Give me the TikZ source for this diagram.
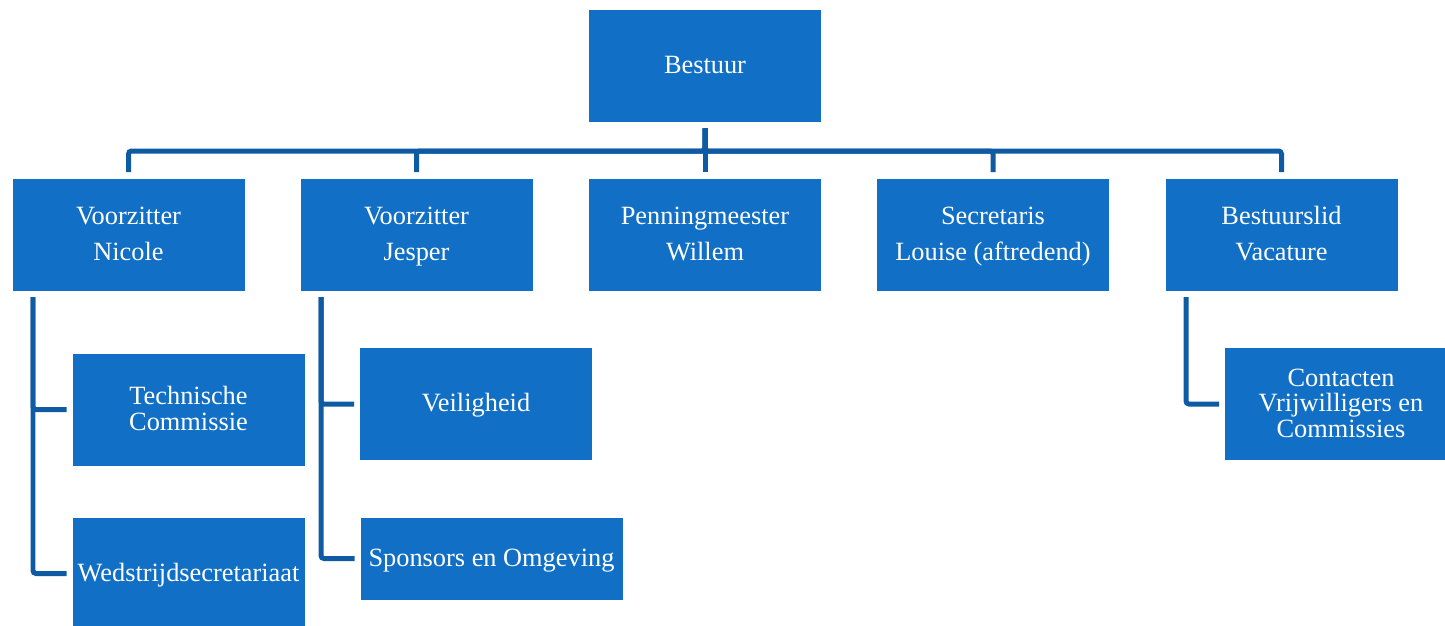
\documentclass[tikz,border=0pt]{standalone}
\usepackage{fontspec}
\setmainfont{Liberation Serif}
\definecolor{boxblue}{RGB}{17,112,197}
\definecolor{lineblue}{RGB}{14,90,163}
\newcommand{\tstrut}{\rule{0pt}{13pt}}
\newcommand{\bstrut}{\rule[-4pt]{0pt}{4pt}}
\tikzset{link/.style={draw=lineblue, line width=0.1cm, rounded corners=0.06cm, shorten <=0.12cm, shorten >=0.12cm}}
\tikzset{stub/.style={link, shorten <=0.1cm, shorten >=0.1cm}}
\tikzset{unit/.style={fill=boxblue, draw=white, line width=0.4pt, text=white, align=center, inner sep=0pt, minimum width=4.66cm, minimum height=2.26cm, font=\fontsize{15}{14.7}\selectfont}}

\begin{document}
\begin{tikzpicture}[x=0.02cm, y=-0.02cm]
	\useasboundingbox (0,0) rectangle (1445,626);

	% Top
	\node[unit] (bestuur) at (705,65.5) {\tstrut Bestuur\bstrut};
	\coordinate (bus) at (0,151);

	% Board row
	\node[unit] (nicole) at (128.5,235) {\tstrut Voorzitter\\[5.7pt]Nicole\bstrut};
	\node[unit] (jesper) at (416.5,235) {\tstrut Voorzitter\\[5.7pt]Jesper\bstrut};
	\node[unit] (willem) at (705,235) {\tstrut Penningmeester\\[5.7pt]Willem\bstrut};
	\node[unit] (louise) at (993,235) {\tstrut Secretaris\\[5.7pt]Louise (aftredend)\bstrut};
	\node[unit] (vacature) at (1281.5,235) {\tstrut Bestuurslid\\[5.7pt]Vacature\bstrut};

	% Sub units
	\node[unit] (techcom) at (188.5,409.5) {\tstrut Technische\\Commissie\bstrut};
	\node[unit] (wedstrijd) at (188.5,573.5) {\tstrut Wedstrijdsecretariaat\bstrut};
	\node[unit] (veiligheid) at (476,404) {\tstrut Veiligheid\bstrut};
	\node[unit, minimum width=5.26cm, minimum height=1.66cm] (sponsors) at (491.5,558.5) {\tstrut Sponsors en Omgeving\bstrut};
	\node[unit] (contacten) at (1341,404) {\tstrut Contacten\\Vrijwilligers en\\Commissies\bstrut};

	% Trunks
	\coordinate (nicole trunk) at (33,292);
	\coordinate (jesper trunk) at (321,292);
	\coordinate (vacature trunk) at (1186,292);

	% Bestuur to board
	\foreach \member in {nicole,jesper,willem,louise,vacature}
		\draw[link] (bestuur.south) -- (bestuur.south |- bus) -| (\member.north);

	% Board to sub units
	\draw[stub] (nicole trunk) |- (techcom.west);
	\draw[stub] (nicole trunk) |- (wedstrijd.west);
	\draw[stub] (jesper trunk) |- (veiligheid.west);
	\draw[stub] (jesper trunk) |- (sponsors.west);
	\draw[stub] (vacature trunk) |- (contacten.west);

\end{tikzpicture}
\end{document}
